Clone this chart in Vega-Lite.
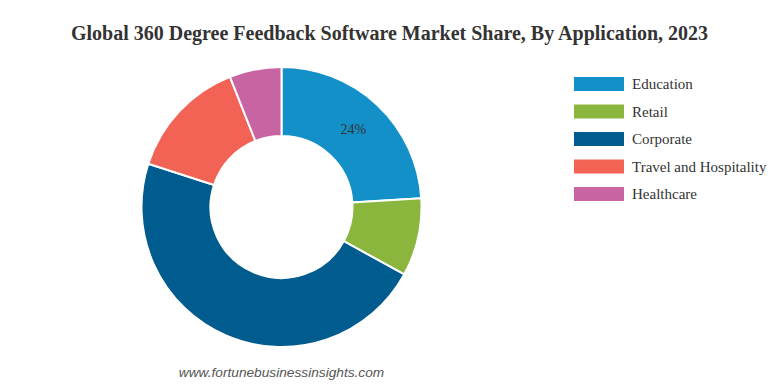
{
  "$schema": "https://vega.github.io/schema/vega-lite/v6.json",
  "autosize": "none",
  "width": 563,
  "height": 300,
  "padding": {"left": 0, "top": 57, "right": 215, "bottom": 30},
  "background": "white",
  "view": {"stroke": null},
  "title": {
    "text": "Global 360 Degree Feedback Software Market Share, By Application, 2023",
    "font": "Liberation Serif",
    "fontSize": 20,
    "fontWeight": "bold",
    "color": "#333333",
    "anchor": "middle",
    "dx": 108,
    "offset": 13
  },
  "data": {
    "values": [
      {"application": "Education", "share": 24, "rank": 1, "label": "24%"},
      {"application": "Retail", "share": 9, "rank": 2, "label": ""},
      {"application": "Corporate", "share": 47, "rank": 3, "label": ""},
      {"application": "Travel and Hospitality", "share": 14, "rank": 4, "label": ""},
      {"application": "Healthcare", "share": 6, "rank": 5, "label": ""}
    ]
  },
  "layer": [
    {
      "mark": {"type": "arc", "innerRadius": 71, "outerRadius": 140, "stroke": "white", "strokeWidth": 2},
      "encoding": {
        "theta": {"field": "share", "type": "quantitative", "stack": true},
        "order": {"field": "rank", "type": "quantitative"},
        "color": {
          "field": "application",
          "type": "nominal",
          "sort": ["Education", "Retail", "Corporate", "Travel and Hospitality", "Healthcare"],
          "scale": {
            "domain": ["Education", "Retail", "Corporate", "Travel and Hospitality", "Healthcare"],
            "range": ["#1490c8", "#8ab63e", "#005b8e", "#f26355", "#c964a3"]
          },
          "legend": {
            "orient": "none",
            "legendX": 589,
            "legendY": 17,
            "title": null,
            "symbolType": "M-2.5,-0.7L2.5,-0.7L2.5,0.7L-2.5,0.7Z",
            "symbolSize": 400,
            "symbolStrokeWidth": 0,
            "symbolOpacity": 1,
            "labelFont": "Liberation Serif",
            "labelFontSize": 15,
            "labelColor": "#333333",
            "rowPadding": 9.5,
            "labelOffset": 23,
            "labelLimit": 200
          }
        }
      }
    },
    {
      "mark": {"type": "text", "radius": 105, "font": "Liberation Serif", "fontSize": 14, "color": "#333333"},
      "encoding": {
        "theta": {"field": "share", "type": "quantitative", "stack": true},
        "order": {"field": "rank", "type": "quantitative"},
        "text": {"field": "label", "type": "nominal"}
      }
    },
    {
      "data": {"values": [{"source": "www.fortunebusinessinsights.com"}]},
      "mark": {"type": "text", "theta": 3.14159, "radius": 166, "font": "Liberation Sans", "fontSize": 13.7, "fontStyle": "italic", "color": "#555555"},
      "encoding": {"text": {"field": "source", "type": "nominal"}}
    }
  ]
}
